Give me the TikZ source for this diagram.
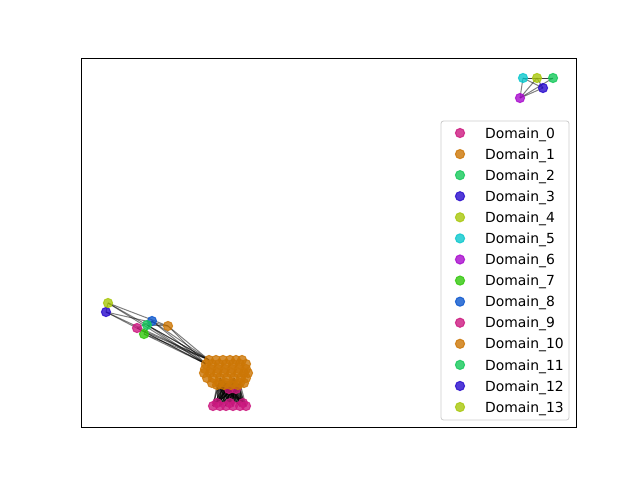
\documentclass[tikz,border=0pt]{standalone}
\usepackage{fontspec}
\setmainfont{DejaVu Sans}
\definecolor{cA}{RGB}{204,25,128}
\definecolor{cB}{RGB}{204,118,5}
\definecolor{cC}{RGB}{20,200,90}
\definecolor{cD}{RGB}{40,10,205}
\definecolor{cE}{RGB}{168,199,11}
\definecolor{cF}{RGB}{11,199,205}
\definecolor{cG}{RGB}{168,11,205}
\definecolor{cH}{RGB}{49,199,11}
\definecolor{cI}{RGB}{11,86,205}
\definecolor{legline}{RGB}{204,204,204}
\tikzset{
  dot/.style={fill=#1,draw=#1,fill opacity=0.8,draw opacity=0.8,line width=1pt},
  edge/.style={draw=black,draw opacity=0.5,line width=1pt},
  legtext/.style={anchor=west,inner sep=0pt,font=\fontsize{13.9}{16}\selectfont}
}
\newcommand{\mydot}[2]{\path[dot=#1] (#2) circle[radius=4.6];}
\begin{document}
\begin{tikzpicture}[x=1pt,y=-1pt]
\useasboundingbox (0,0) rectangle (640,480);
% ---- coordinates ----
% top-right cluster
\coordinate (t5) at (523,78);
\coordinate (t4) at (537,78);
\coordinate (t2) at (553,78);
\coordinate (t3) at (543,88);
\coordinate (t6) at (520,98);
% left cluster
\coordinate (l13) at (108,303);
\coordinate (l12) at (106,312);
\coordinate (l9) at (137,328);
\coordinate (l11) at (147,325);
\coordinate (l7) at (144,334);
\coordinate (l8) at (152,321);
\coordinate (l10) at (168,326);
% orange blob
\foreach \x [count=\i] in {209,216,223,230,236,242} {\coordinate (oa\i) at (\x,360);}
\foreach \x [count=\i] in {206,212,219,226,233,240,246} {\coordinate (ob\i) at (\x,364);}
\foreach \x [count=\i] in {205,211,218,225,232,239,246} {\coordinate (oc\i) at (\x,369);}
\foreach \x [count=\i] in {204,210,217,224,231,238,244,248} {\coordinate (od\i) at (\x,373);}
\foreach \x [count=\i] in {207,213,220,227,234,241,246} {\coordinate (oe\i) at (\x,378);}
\foreach \x [count=\i] in {212,219,226,233,240,244} {\coordinate (of\i) at (\x,383);}
\foreach \x [count=\i] in {217,224,231,238} {\coordinate (og\i) at (\x,385);}
% pink nodes
\foreach \x [count=\i] in {229,236} {\coordinate (ph\i) at (\x,389);}
\foreach \x [count=\i] in {213,220,226,233,240,246} {\coordinate (pa\i) at (\x,406);}
\foreach \x [count=\i] in {217,230,243} {\coordinate (pb\i) at (\x,403);}
% ---- edges ----
\foreach \a/\b in {t5/t4,t4/t2,t5/t2,t6/t5,t6/t4,t6/t3,t6/t2,t5/t3,t4/t3}
  {\path[edge] (\a) -- (\b);}
\foreach \a in {l13,l12,l9,l11,l7,l8,l10}
  {\path[edge] (\a) -- (ob1); \path[edge] (\a) -- (oa1);}
\foreach \a/\b in {l13/l10,l12/l10,l13/l12,l9/l8,l11/l10,l7/l8}
  {\path[edge] (\a) -- (\b);}
\foreach \p in {pa1,pa2,pa3,pa4,pa5,pa6,pb1,pb2,pb3}
  {\foreach \o in {og1,og2,og3,og4,of2,of3,of4,of5,oe3,oe5}
    {\path[edge] (\p) -- (\o);}}
% ---- nodes ----
\foreach \p in {ph1,ph2,pb1,pb2,pb3,pa1,pa2,pa3,pa4,pa5,pa6} {\mydot{cA}{\p}}
\foreach \o in {oa1,oa2,oa3,oa4,oa5,oa6,ob1,ob2,ob3,ob4,ob5,ob6,ob7,oc1,oc2,oc3,oc4,oc5,oc6,oc7,
  od1,od2,od3,od4,od5,od6,od7,od8,oe1,oe2,oe3,oe4,oe5,oe6,oe7,of1,of2,of3,of4,of5,of6,og1,og2,og3,og4}
  {\mydot{cB}{\o}}
\mydot{cC}{t2}
\mydot{cD}{t3}
\mydot{cE}{t4}
\mydot{cF}{t5}
\mydot{cG}{t6}
\mydot{cH}{l7}
\mydot{cI}{l8}
\mydot{cA}{l9}
\mydot{cB}{l10}
\mydot{cC}{l11}
\mydot{cD}{l12}
\mydot{cE}{l13}
% ---- axes ----
\draw[line width=0.8pt] (81,58) rectangle (576,427);
% ---- legend ----
\draw[draw=legline,fill=white,fill opacity=0.8,line width=0.8pt,rounded corners=2.5pt]
  (441,121) rectangle (569,420);
\foreach \c/\n [count=\i from 0] in {cA/0,cB/1,cC/2,cD/3,cE/4,cF/5,cG/6,cH/7,cI/8,cA/9,cB/10,cC/11,cD/12,cE/13} {
  \coordinate (k\i) at (460,133+21.08*\i);
  \mydot{\c}{k\i}
  \node[legtext] (lab\i) at (485,134.5+21.08*\i) {Domain\_\n};
}
\end{tikzpicture}
\end{document}
